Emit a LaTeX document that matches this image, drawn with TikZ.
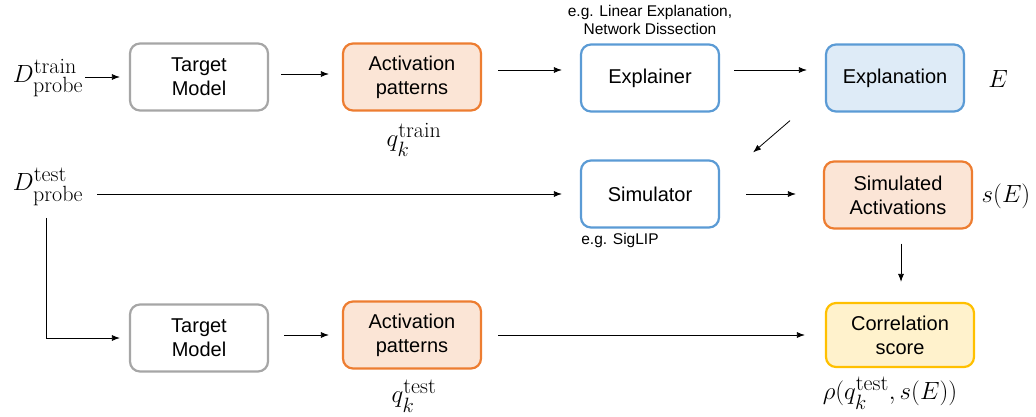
\documentclass[tikz,border=0pt]{standalone}
\usepackage{fontspec}
\usepackage{amsmath}
\usepackage{tikz}
\usetikzlibrary{positioning,arrows.meta}
\newfontfamily\boxfont{Liberation Sans}
\DeclareMathSizes{28}{28}{22}{17}

\definecolor{grigio}{HTML}{A6A6A6}
\definecolor{arancio}{HTML}{ED7D31}
\definecolor{arancioF}{HTML}{FBE5D6}
\definecolor{blu}{HTML}{5B9BD5}
\definecolor{bluF}{HTML}{DEEBF7}
\definecolor{giallo}{HTML}{FFC000}
\definecolor{gialloF}{HTML}{FFF2CC}

\tikzset{
  blocco/.style={rectangle, rounded corners=10pt, line width=2.2pt, minimum width=138pt, minimum height=67pt,
    align=center, font=\boxfont\fontsize{20}{24}\selectfont},
  modello/.style={blocco, draw=grigio, fill=white},
  attiv/.style={blocco, draw=arancio, fill=arancioF},
  spieg/.style={blocco, draw=blu, fill=white},
  freccia/.style={-{Latex[length=8pt,width=6pt]}, line width=0.8pt},
  formula/.style={font=\fontsize{28}{32}\selectfont, inner sep=0pt},
  nota/.style={font=\boxfont\fontsize{15.5}{18}\selectfont, align=center, inner sep=0pt}
}

\begin{document}
\begin{tikzpicture}[x=1pt, y=-1pt]
      \useasboundingbox (0,0) rectangle (1036,417);

      % Riga superiore
      \node[formula] (Dtr) at (48,78) {$D_{\mathrm{probe}}^{\mathrm{train}}$};
      \node[modello] (TM1) at (199,77) {Target\\Model};
      \node[attiv] (AP1) at (412,77) {Activation\\patterns};
      \node[formula] (q1) at (414,140) {$q_k^{\mathrm{train}}$};
      \node[spieg] (EX) at (650,78) {Explainer};
      \node[nota] (n1) at (650,20) {e.g. Linear Explanation,\\Network Dissection};
      \node[blocco, draw=blu, fill=bluF] (EN) at (895,78) {Explanation};
      \node[formula] (E) at (998,79) {$E$};

      % Riga centrale
      \node[formula] (Dte) at (48,187) {$D_{\mathrm{probe}}^{\mathrm{test}}$};
      \node[spieg] (SI) at (650,194) {Simulator};
      \node[nota] (n2) at (620,240) {e.g. SigLIP};
      \node[blocco, draw=arancio, fill=arancioF, minimum width=148pt] (SA) at (898,195) {Simulated\\Activations};
      \node[formula] (sE) at (1006,196) {$s(E)$};

      % Riga inferiore
      \node[modello] (TM2) at (199,338) {Target\\Model};
      \node[attiv] (AP2) at (412,335) {Activation\\patterns};
      \node[formula] (q2) at (414,396) {$q_k^{\mathrm{test}}$};
      \node[blocco, draw=giallo, fill=gialloF, minimum width=148pt, minimum height=64pt] (CS) at (900,335) {Correlation\\score};
      \node[formula] (rho) at (890,393) {$\rho(q_k^{\mathrm{test}},s(E))$};
      \coordinate (gomito) at (46,338);

      % Collegamenti
      \draw[freccia, shorten <=2pt, shorten >=9pt] (Dtr.east |- TM1) -- (TM1);
      \draw[freccia, shorten <=12pt, shorten >=13pt] ([yshift=3pt]TM1.east) -- ([yshift=3pt]AP1.west);
      \draw[freccia, shorten <=16pt, shorten >=18pt] ([yshift=7pt]AP1.east) -- ([yshift=7pt]AP1.east -| EX.west);
      \draw[freccia, shorten <=14pt, shorten >=18pt] ([yshift=8pt]EX.east) -- ([yshift=8pt]EN.west);
      \draw[freccia] ([xshift=-105pt,yshift=-8pt]EN.south) -- ([xshift=33pt,yshift=7pt]SI.north east);
      \draw[freccia, shorten <=14pt, shorten >=18pt] (Dte.east |- SI) -- (SI.west);
      \draw[freccia, shorten <=26pt, shorten >=27pt] (SI.east) -- (SA.west |- SI);
      \draw[freccia, shorten <=14pt, shorten >=20pt] ([xshift=3pt]SA.south) -- ([xshift=1pt]CS.north);
      \draw[line width=0.8pt] (Dte.south -| gomito) ++(0,-12pt) -- (gomito);
      \draw[freccia, shorten >=9pt] (gomito) -- (TM2.west);
      \draw[freccia, shorten <=15pt, shorten >=13pt] (TM2.east |- AP2) -- (AP2.west);
      \draw[freccia, shorten <=16pt, shorten >=20pt] (AP2.east) -- (CS.west);
\end{tikzpicture}
\end{document}
